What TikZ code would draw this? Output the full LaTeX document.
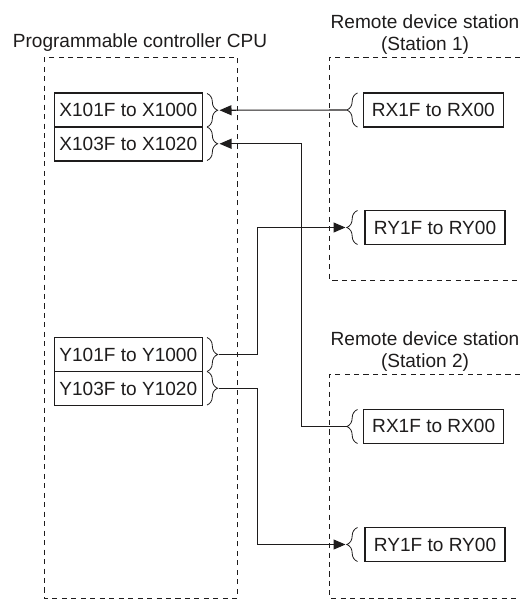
\documentclass[tikz,border=0pt]{standalone}
\usepackage{fontspec}
\setmainfont{Liberation Sans}
\usetikzlibrary{decorations.pathreplacing,arrows.meta}
\definecolor{ink}{RGB}{30,28,28}
\begin{document}
\begin{tikzpicture}[x=0.75pt,y=-0.75pt,
  font=\fontsize{14.3}{17}\selectfont, text=ink,
  cpubox/.style={draw=ink, line width=0.9pt, minimum width=111pt, minimum height=25.5pt, inner sep=0pt},
  stbox/.style={draw=ink, line width=0.9pt, minimum width=105pt, minimum height=25.5pt, inner sep=0pt},
  frame/.style={draw=ink, line width=0.7pt, dash pattern=on 3.8pt off 3.3pt},
  cbrace/.style={draw=ink, line width=0.6pt, decorate, decoration={brace, amplitude=8pt}},
  conn/.style={draw=ink, line width=0.8pt},
  tip/.style={-{Triangle[length=9pt,width=7.5pt]}},
  title/.style={anchor=base, inner sep=0pt}]
\useasboundingbox (0,0) rectangle (520,599);

% dashed frames
\draw[frame] (44,57.3) rectangle (237.3,598);
\draw[frame] (520,57.3) -- (329.3,57.3) -- (329.3,280) -- (520,280);
\draw[frame] (520,374) -- (329.3,374) -- (329.3,598) -- (520,598);

% titles
\node[title] (cput) at (140,47.5) {Programmable controller CPU};
\node[title] (s1a) at (425,29) {Remote device station};
\node[title] (s1b) at (425,51) {(Station 1)};
\node[title] (s2a) at (425,345.7) {Remote device station};
\node[title] (s2b) at (425,367.7) {(Station 2)};

% CPU boxes
\node[cpubox] (x1) at (128.3,110) {X101F to X1000};
\node[cpubox] (x2) at (128.3,144) {X103F to X1020};
\node[cpubox] (y1) at (128.3,354.5) {Y101F to Y1000};
\node[cpubox] (y2) at (128.3,388.5) {Y103F to Y1020};

% station boxes
\node[stbox] (rx1) at (433.3,110) {RX1F to RX00};
\node[stbox] (ry1) at (435,227.5) {RY1F to RY00};
\node[stbox] (rx2) at (433.7,426.3) {RX1F to RX00};
\node[stbox] (ry2) at (435,544.5) {RY1F to RY00};

% braces, CPU side
\draw[cbrace] (207,93.5) -- (207,127);
\draw[cbrace] (207,127) -- (207,160.5);
\draw[cbrace] (207,337.5) -- (207,371.5);
\draw[cbrace] (207,371.5) -- (207,405);
% braces, station side
\draw[cbrace] (357.5,127) -- (357.5,93);
\draw[cbrace] (357.5,244.5) -- (357.5,210.5);
\draw[cbrace] (357.5,443.5) -- (357.5,409.5);
\draw[cbrace] (357.5,561.5) -- (357.5,527.5);

% brace tips
\coordinate (x1t) at (219.5,110.25);
\coordinate (x2t) at (219.5,143.75);
\coordinate (y1t) at (218.5,354.5);
\coordinate (y2t) at (218.5,388.25);
\coordinate (rx1t) at (346.5,110);
\coordinate (ry1t) at (345.5,227.5);
\coordinate (rx2t) at (346.5,426.5);
\coordinate (ry2t) at (345.5,544.5);
% bends
\coordinate (j2) at (301.7,143.75);
\coordinate (j3) at (257.3,227.5);
\coordinate (j4) at (257.3,544.5);

% connectors
\draw[conn,tip] (rx1t) -- (x1t);
\draw[conn,tip] (rx2t) -| (j2) -- (x2t);
\draw[conn,tip] (y1t) -| (j3) -- (ry1t);
\draw[conn,tip] (y2t) -| (j4) -- (ry2t);
\end{tikzpicture}
\end{document}
